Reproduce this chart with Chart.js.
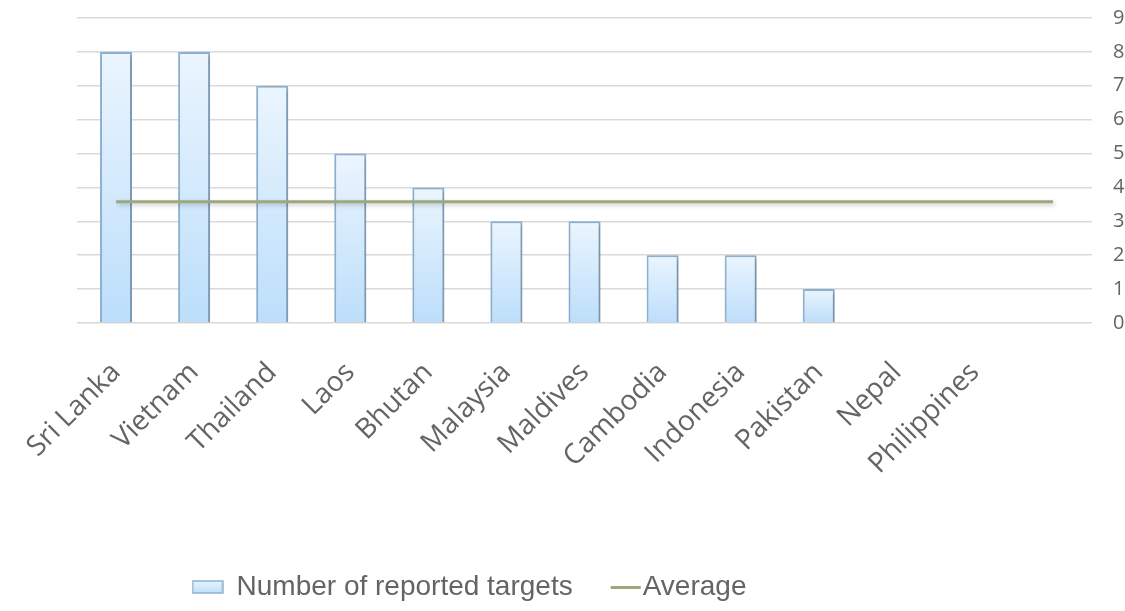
<!DOCTYPE html>
<html>
<head>
<meta charset="utf-8">
<script src="https://cdn.jsdelivr.net/npm/chart.js@4/dist/chart.umd.min.js"></script>
<style>
  html, body { margin: 0; padding: 0; background: #fff; }
  #wrap { width: 1125px; height: 611px; }
</style>
</head>
<body>
<div id="wrap"><canvas id="chart" width="1125" height="611"></canvas></div>
<script>
// Chart data
const countries = ['Sri Lanka', 'Vietnam', 'Thailand', 'Laos', 'Bhutan', 'Malaysia', 'Maldives',
  'Cambodia', 'Indonesia', 'Pakistan', 'Nepal', 'Philippines', ''];
const reportedTargets = [8, 8, 7, 5, 4, 3, 3, 2, 2, 1, 0, 0, 0];
const averageValues = [3.58, 3.58, 3.58, 3.58, 3.58, 3.58, 3.58, 3.58, 3.58, 3.58, 3.58, 3.58, 3.58];
const yTicks = [0, 1, 2, 3, 4, 5, 6, 7, 8, 9];

const barTop = '#ebf5fe';
const barBottom = '#bcdefb';
const barBorder = '#8eb2d2';
const lineColor = '#9ba97d';
const textColor = '#646464';

// small canvases used as legend markers
function makeBarMarker() {
  const c = document.createElement('canvas');
  c.width = 32; c.height = 14;
  const g = c.getContext('2d');
  const grad = g.createLinearGradient(0, 0, 0, 14);
  grad.addColorStop(0, barTop);
  grad.addColorStop(1, barBottom);
  g.fillStyle = grad;
  g.fillRect(1, 1, 30, 12);
  g.strokeStyle = barBorder;
  g.lineWidth = 1.5;
  g.strokeRect(1, 1, 30, 12);
  return c;
}
function makeLineMarker() {
  // wider canvas, line drawn on its right half so the text hugs it
  const c = document.createElement('canvas');
  c.width = 60; c.height = 3;
  const g = c.getContext('2d');
  g.fillStyle = lineColor;
  g.fillRect(27, 0, 30, 3);
  return c;
}

// each bar gets its own top-to-bottom gradient
function barGradient(c) {
  const chart = c.chart;
  if (!chart.chartArea || c.raw == null) return barBottom;
  const yScale = chart.scales.y;
  const top = yScale.getPixelForValue(c.raw);
  const base = yScale.getPixelForValue(0);
  if (base - top < 1) return barBottom;
  const grad = chart.ctx.createLinearGradient(0, top, 0, base);
  grad.addColorStop(0, barTop);
  grad.addColorStop(1, barBottom);
  return grad;
}

// soft shadow under bars and line
const shadow = {
  id: 'shadow',
  beforeDatasetDraw(chart) {
    const ctx = chart.ctx;
    ctx.save();
    ctx.shadowColor = 'rgba(0,0,0,0.22)';
    ctx.shadowBlur = 4;
    ctx.shadowOffsetX = 2;
    ctx.shadowOffsetY = 2;
  },
  afterDatasetDraw(chart) {
    chart.ctx.restore();
  }
};

// the legend sits left of the page centre in the original
const legendShift = {
  id: 'legendShift',
  afterLayout(chart) {
    chart.legend.right -= 263;
  }
};

const ctx = document.getElementById('chart').getContext('2d');
new Chart(ctx, {
  type: 'bar',
  data: {
    labels: countries,
    datasets: [{
      type: 'bar',
      label: 'Number of reported targets',
      data: reportedTargets,
      backgroundColor: barGradient,
      borderColor: barBorder,
      borderWidth: 2,
      barPercentage: 0.41,
      categoryPercentage: 1,
      pointStyle: makeBarMarker(),
      order: 1
    }, {
      type: 'line',
      label: 'Average',
      data: averageValues,
      borderColor: lineColor,
      borderWidth: 3,
      pointRadius: 0,
      tension: 0,
      pointStyle: makeLineMarker(),
      order: 0
    }]
  },
  options: {
    responsive: false,
    animation: false,
    layout: { padding: { top: 18, left: 77, right: 0, bottom: 0 } },
    plugins: {
      tooltip: { enabled: false },
      legend: {
        position: 'bottom',
        labels: {
          usePointStyle: true,
          pointStyleWidth: 30,
          padding: 26,
          color: textColor,
          font: { family: '"Liberation Sans", Arial, sans-serif', size: 28 },
          sort: (a, b) => a.datasetIndex - b.datasetIndex
        }
      }
    },
    scales: {
      x: {
        grid: { display: false },
        border: { display: false },
        ticks: {
          color: textColor,
          font: { family: '"Open Sans", sans-serif', size: 28 },
          minRotation: 45,
          maxRotation: 45,
          autoSkip: false,
          padding: 25
        },
        afterFit(scale) {
          scale.height = 224;
          scale.paddingLeft = 0;
          scale.paddingRight = 0;
        }
      },
      y: {
        position: 'right',
        min: 0,
        max: 9,
        border: { display: false },
        grid: { color: '#d9d9d9', lineWidth: 1.5, drawTicks: false },
        afterBuildTicks(scale) { scale.ticks = yTicks.map(v => ({ value: v })); },
        ticks: {
          color: textColor,
          font: { family: '"Open Sans", sans-serif', size: 20 },
          padding: 21
        },
        afterFit(scale) {
          scale.width = 33;
          scale.paddingTop = 0;
          scale.paddingBottom = 0;
        }
      }
    }
  },
  plugins: [shadow, legendShift]
});
</script>
</body>
</html>
